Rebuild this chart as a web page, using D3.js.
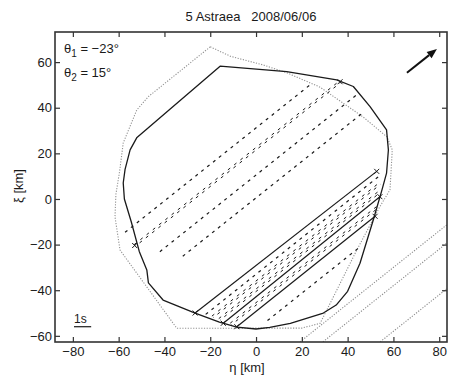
<!DOCTYPE html>
<html><head><meta charset="utf-8">
<script src="https://cdn.jsdelivr.net/npm/d3@7"></script>
<style>
html,body{margin:0;padding:0;background:#fff;}
svg{display:block;font-family:"Liberation Sans",Arial,Helvetica,sans-serif;}
</style></head><body>
<svg id="chart" width="449" height="377"></svg>
<script>
// ---- data (km in the fundamental plane) ----
const title = "5 Astraea   2008/06/06";
const xTicks = [-80, -60, -40, -20, 0, 20, 40, 60, 80];
const yTicks = [-60, -40, -20, 0, 20, 40, 60];
const xDomain = [-87.8, 83.4];
const yDomain = [-62.7, 73.2];
const theta1 = -23;
const theta2 = 15;

// shape-model silhouette (solid)
const profileOutline = [
  [-15.7, 58.2], [13.4, 55.8], [35.2, 52.2], [42.5, 49.3], [49.8, 40.5], [57, 30.3],
  [57.8, 21.5], [57, 11.3], [55, 4], [51.2, -9.2], [45.4, -28.2], [40, -40.5],
  [35, -46.5], [29.4, -50], [15, -54.5], [6, -56.3], [0, -57], [-8.4, -56.2],
  [-16, -54], [-26.6, -50], [-40.6, -44.3], [-47, -36.8], [-47.7, -31.1], [-51, -23],
  [-54.5, -10], [-57.5, 0], [-58, 7], [-57.2, 13], [-55, 21.5], [-52, 27], [-38, 39]
];

// alternative model silhouette (dotted)
const fitOutline = [
  [-20, 66.7], [-11, 62.5], [3, 58.8], [13.5, 55.3], [28, 49], [46.7, 36], [57.2, 27.2],
  [59.5, 21.5], [58.5, 4], [54, -3.5], [44, -22.4], [28, -54.5], [20, -56.6],
  [-34.6, -56.7], [-59.4, -22.4], [-61.6, -7.8], [-61.2, 2], [-59.6, 12], [-58, 24.6],
  [-52.1, 39], [-47, 44.9]
];

// observed chords: start, end, line style, and whether the timings are marked
const chordStart = [
  [-57.2, -14.6], [-53, -20.4], [-42, -23.1], [-32, -25.1],
  [-26.6, -50], [-22, -50.6], [-19, -51.7], [-16, -52.8], [-14.3, -54.5], [-11, -54.8], [-8.4, -56],
  [5, -53.3]
];
const chordEnd = [
  [24.3, 50.6], [36.7, 51.4], [44, 45.7], [46.8, 37.9],
  [52.7, 12.1], [54, 10.2], [54, 6.7], [54, 3.2], [54.1, 1], [53, -3.6], [52, -7.6],
  [45.4, -21]
];
const chordStyle = [
  "dash", "double", "dash", "dash",
  "solid", "dash", "double", "double", "solid", "double", "solid",
  "dash"
];
const chordMarked = [
  false, true, false, false,
  true, false, false, false, true, false, true,
  false
];

// negative observations (outside the body)
const missStart = [[10, -70], [20, -70], [45, -70]];
const missEnd = [[90, -6], [90, -14], [90, -34]];

// direction of motion and time scale
const motionFrom = [65.9, 55.3];
const motionTo = [79, 65.8];
const scaleBarStart = [-79.5, -56];
const scaleBarLength = 7.5;
const scaleBarLabel = "1s";

// ---- layout ----
const svg = d3.select("#chart");
const plotLeft = 55, plotRight = 447, plotTop = 32, plotBottom = 342;
const x = d3.scaleLinear().domain(xDomain).range([plotLeft, plotRight]);
const y = d3.scaleLinear().domain(yDomain).range([plotBottom, plotTop]);
const ink = "#1a1a1a";

svg.append("defs").append("clipPath").attr("id", "plotClip")
  .append("rect").attr("x", plotLeft).attr("y", plotTop)
  .attr("width", plotRight - plotLeft).attr("height", plotBottom - plotTop);

const plot = svg.append("g").attr("clip-path", "url(#plotClip)");
const line = d3.line().x(d => x(d[0])).y(d => y(d[1]));

// misses
missStart.forEach((s, i) => {
  plot.append("path").attr("d", line([s, missEnd[i]]))
    .attr("fill", "none").attr("stroke", "#8c8c8c").attr("stroke-width", 1.1)
    .attr("stroke-dasharray", "1.2,1.5");
});

// dotted silhouette
plot.append("path").attr("d", line(fitOutline) + "Z")
  .attr("fill", "none").attr("stroke", "#929292").attr("stroke-width", 1.1)
  .attr("stroke-dasharray", "1.2,1.5");

// solid silhouette
plot.append("path").attr("d", line(profileOutline) + "Z")
  .attr("fill", "none").attr("stroke", ink).attr("stroke-width", 1.3)
  .attr("stroke-linejoin", "round");

// chords
chordStart.forEach((s, i) => {
  const e = chordEnd[i];
  const x1 = x(s[0]), y1 = y(s[1]), x2 = x(e[0]), y2 = y(e[1]);
  const st = chordStyle[i];
  if (st === "solid") {
    plot.append("line").attr("x1", x1).attr("y1", y1).attr("x2", x2).attr("y2", y2)
      .attr("stroke", ink).attr("stroke-width", 1.2);
  } else if (st === "dash") {
    plot.append("line").attr("x1", x1).attr("y1", y1).attr("x2", x2).attr("y2", y2)
      .attr("stroke", ink).attr("stroke-width", 1.2).attr("stroke-dasharray", "3,4.5");
  } else {
    const L = Math.hypot(x2 - x1, y2 - y1);
    const nx = -(y2 - y1) / L, ny = (x2 - x1) / L;
    [[-1, 0], [1, 2.5]].forEach(([o, off]) => {
      plot.append("line")
        .attr("x1", x1 + nx * o).attr("y1", y1 + ny * o)
        .attr("x2", x2 + nx * o).attr("y2", y2 + ny * o)
        .attr("stroke", ink).attr("stroke-width", 1)
        .attr("stroke-dasharray", "3,5").attr("stroke-dashoffset", off);
    });
  }
  if (chordMarked[i]) {
    [[x1, y1], [x2, y2]].forEach(([px, py]) => {
      plot.append("path")
        .attr("d", `M${px - 2.5},${py - 2.5}L${px + 2.5},${py + 2.5}M${px - 2.5},${py + 2.5}L${px + 2.5},${py - 2.5}`)
        .attr("stroke", ink).attr("stroke-width", 1);
    });
  }
});

// motion arrow
{
  const ax1 = x(motionFrom[0]), ay1 = y(motionFrom[1]);
  const ax2 = x(motionTo[0]), ay2 = y(motionTo[1]);
  const L = Math.hypot(ax2 - ax1, ay2 - ay1);
  const ux = (ax2 - ax1) / L, uy = (ay2 - ay1) / L;
  const hl = 10, hw = 4;
  const bx = ax2 - ux * hl, by = ay2 - uy * hl;
  svg.append("line").attr("x1", ax1).attr("y1", ay1).attr("x2", bx).attr("y2", by)
    .attr("stroke", "#111").attr("stroke-width", 2);
  svg.append("path")
    .attr("d", `M${ax2},${ay2}L${bx - uy * hw},${by + ux * hw}L${bx + uy * hw},${by - ux * hw}Z`)
    .attr("fill", "#111");
}

// time scale bar
svg.append("line")
  .attr("x1", x(scaleBarStart[0])).attr("x2", x(scaleBarStart[0] + scaleBarLength))
  .attr("y1", y(scaleBarStart[1])).attr("y2", y(scaleBarStart[1]))
  .attr("stroke", ink).attr("stroke-width", 1.2);
svg.append("text").attr("x", x(scaleBarStart[0])).attr("y", y(scaleBarStart[1]) - 4)
  .attr("font-size", 12).attr("fill", ink).text(scaleBarLabel);

// axes with inward ticks
const fmt = d3.format("d");
const axB = svg.append("g").attr("transform", `translate(0,${plotBottom})`)
  .call(d3.axisBottom(x).tickValues(xTicks).tickSizeInner(-5).tickSizeOuter(0).tickPadding(5).tickFormat(fmt));
const axT = svg.append("g").attr("transform", `translate(0,${plotTop})`)
  .call(d3.axisTop(x).tickValues(xTicks).tickSizeInner(-5).tickSizeOuter(0).tickFormat(""));
const axL = svg.append("g").attr("transform", `translate(${plotLeft},0)`)
  .call(d3.axisLeft(y).tickValues(yTicks).tickSizeInner(-5).tickSizeOuter(0).tickPadding(3).tickFormat(fmt));
const axR = svg.append("g").attr("transform", `translate(${plotRight},0)`)
  .call(d3.axisRight(y).tickValues(yTicks).tickSizeInner(-5).tickSizeOuter(0).tickFormat(""));
[axB, axT, axL, axR].forEach(g => {
  g.select(".domain").remove();
  g.selectAll(".tick line").attr("stroke", "#333").attr("stroke-width", 1.2);
  g.selectAll(".tick text").attr("font-size", 13).attr("fill", ink)
    .attr("font-family", "Liberation Sans, Arial, sans-serif");
});

svg.append("rect").attr("x", plotLeft).attr("y", plotTop)
  .attr("width", plotRight - plotLeft).attr("height", plotBottom - plotTop)
  .attr("fill", "none").attr("stroke", "#333").attr("stroke-width", 1.6);

// titles and labels
svg.append("text").attr("x", 251).attr("y", 21).attr("text-anchor", "middle")
  .attr("font-size", 13).attr("fill", ink).style("white-space", "pre").text(title);

svg.append("text").attr("x", (plotLeft + plotRight) / 2 - 4).attr("y", 372).attr("text-anchor", "middle")
  .attr("font-size", 13).attr("fill", ink).text("η [km]");

svg.append("text").attr("transform", "translate(23,186) rotate(-90)").attr("text-anchor", "middle")
  .attr("font-size", 13).attr("fill", ink).text("ξ [km]");

// orientation angles
[[theta1, 1, 53], [theta2, 2, 77]].forEach(([v, k, yy]) => {
  const t = svg.append("text").attr("x", 64).attr("y", yy).attr("font-size", 13).attr("fill", ink);
  t.append("tspan").text("θ");
  t.append("tspan").attr("dy", 4).attr("font-size", 10).text(k);
  t.append("tspan").attr("dy", -4).text(" = " + (v < 0 ? "−" + Math.abs(v) : v) + "°");
});
</script>
</body></html>
